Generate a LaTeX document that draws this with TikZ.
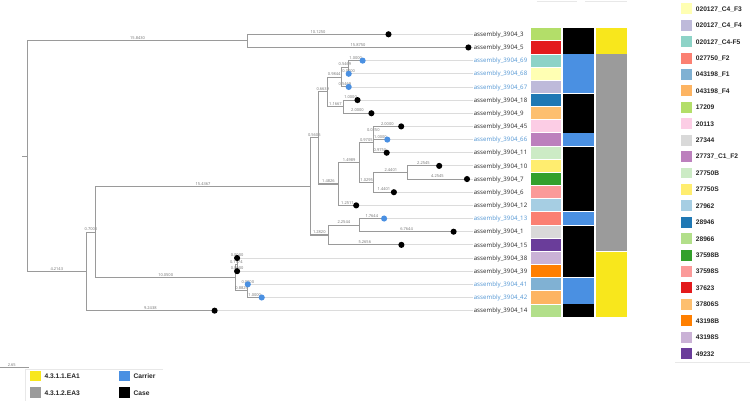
\documentclass[tikz,border=0pt]{standalone}
\usepackage{fontspec}
\setmainfont{Noto Sans}
\newfontfamily\legfont{Liberation Sans}
\definecolor{treegray}{HTML}{9A9A9A}
\definecolor{extgray}{HTML}{DCDCDC}
\definecolor{lblgray}{HTML}{7A7A7A}
\definecolor{tipdark}{HTML}{333333}
\definecolor{tipblue}{HTML}{5B9BD5}
\definecolor{carblue}{HTML}{4A90E2}
\definecolor{gtyellow}{HTML}{F8E71C}
\definecolor{gtgray}{HTML}{9B9B9B}
\definecolor{faint}{HTML}{E8E8E8}
\definecolor{cF3}{HTML}{FFFFB3}
\definecolor{cF4}{HTML}{BEBADA}
\definecolor{cF5}{HTML}{8DD3C7}
\definecolor{c027750}{HTML}{FB8072}
\definecolor{cFone}{HTML}{80B1D3}
\definecolor{cFfour}{HTML}{FDB462}
\definecolor{c17209}{HTML}{B3DE69}
\definecolor{c20113}{HTML}{FCCDE5}
\definecolor{c27344}{HTML}{D9D9D9}
\definecolor{c27737}{HTML}{BC80BD}
\definecolor{c27750B}{HTML}{CCEBC5}
\definecolor{c27750S}{HTML}{FFED6F}
\definecolor{c27962}{HTML}{A6CEE3}
\definecolor{c28946}{HTML}{1F78B4}
\definecolor{c28966}{HTML}{B2DF8A}
\definecolor{c37598B}{HTML}{33A02C}
\definecolor{c37598S}{HTML}{FB9A99}
\definecolor{c37623}{HTML}{E31A1C}
\definecolor{c37806S}{HTML}{FDBF6F}
\definecolor{c43198B}{HTML}{FF7F00}
\definecolor{c43198S}{HTML}{CAB2D6}
\definecolor{c49232}{HTML}{6A3D9A}
\tikzset{
 br/.style={draw=treegray, line width=0.8pt},
 ext/.style={draw=extgray, line width=0.6pt},
 bl/.style={font=\fontsize{3}{3.6}\selectfont, text=lblgray, anchor=south, inner sep=0.5pt},
 tiplab/.style={font=\fontsize{4.6}{5.5}\selectfont, anchor=west, inner sep=0pt, text height=3.3pt, text depth=0pt, text=tipdark},
 carlab/.style={tiplab, text=tipblue},
 casedot/.style={circle, fill=black, inner sep=0pt, minimum size=4.6pt},
 cardot/.style={circle, fill=carblue, inner sep=0pt, minimum size=4.6pt},
 lsq/.style={minimum size=8.2pt, inner sep=0pt},
 bsq/.style={minimum size=8pt, inner sep=0pt},
 ltext/.style={font=\legfont\bfseries\fontsize{5}{6}\selectfont, anchor=west, inner sep=0pt, text height=3.6pt, text depth=0pt, text=black!85},
}
\begin{document}
\begin{tikzpicture}[x=0.75pt,y=-0.75pt]
\useasboundingbox (0,0) rectangle (750,402);
% ---------- internal nodes ----------
\coordinate (root) at (27.5,156.13);
\coordinate (rs) at (22.3,156.13);
\coordinate (Z) at (247.7,40.88);
\coordinate (A) at (86.1,271.38);
\coordinate (B) at (95.8,232.1);
\coordinate (C) at (310.4,186.47);
\coordinate (D) at (235.5,277.76);
\coordinate (E) at (237.1,264.6);
\coordinate (F) at (247.8,290.92);
\coordinate (G) at (318.2,137.94);
\coordinate (I) at (327.4,91.875);
\coordinate (K) at (341.1,77.07);
\coordinate (L) at (348.7,67.2);
\coordinate (M) at (343.6,106.68);
\coordinate (J) at (338.8,184.0);
\coordinate (N) at (359.6,162.61);
\coordinate (O) at (373.1,142.87);
\coordinate (Rr) at (373.5,133.0);
\coordinate (P) at (373.9,182.35);
\coordinate (S) at (407.8,172.48);
\coordinate (H) at (328.2,234.99);
\coordinate (T) at (359.5,225.12);
% ---------- tips ----------
\coordinate (t3) at (388.5,34.30);
\coordinate (t5) at (468.4,47.46);
\coordinate (t69) at (362.6,60.62);
\coordinate (t68) at (348.7,73.78);
\coordinate (t67) at (348.7,86.94);
\coordinate (t18) at (357.5,100.10);
\coordinate (t9) at (371.4,113.26);
\coordinate (t45) at (401.2,126.42);
\coordinate (t66) at (387.3,139.58);
\coordinate (t11) at (386.7,152.74);
\coordinate (t10) at (439.2,165.90);
\coordinate (t7) at (467.0,179.06);
\coordinate (t6) at (393.9,192.22);
\coordinate (t12) at (356.2,205.38);
\coordinate (t13) at (384.1,218.54);
\coordinate (t1) at (453.6,231.70);
\coordinate (t15) at (401.4,244.86);
\coordinate (t38) at (237.1,258.02);
\coordinate (t39) at (237.1,271.18);
\coordinate (t41) at (247.8,284.34);
\coordinate (t42) at (261.7,297.50);
\coordinate (t14) at (214.6,310.66);
% ---------- tip labels ----------
\node[tiplab] (l3) at (473.5,34.30) {assembly\_3904\_3};
\node[tiplab] (l5) at (473.5,47.46) {assembly\_3904\_5};
\node[carlab] (l69) at (473.5,60.62) {assembly\_3904\_69};
\node[carlab] (l68) at (473.5,73.78) {assembly\_3904\_68};
\node[carlab] (l67) at (473.5,86.94) {assembly\_3904\_67};
\node[tiplab] (l18) at (473.5,100.10) {assembly\_3904\_18};
\node[tiplab] (l9) at (473.5,113.26) {assembly\_3904\_9};
\node[tiplab] (l45) at (473.5,126.42) {assembly\_3904\_45};
\node[carlab] (l66) at (473.5,139.58) {assembly\_3904\_66};
\node[tiplab] (l11) at (473.5,152.74) {assembly\_3904\_11};
\node[tiplab] (l10) at (473.5,165.90) {assembly\_3904\_10};
\node[tiplab] (l7) at (473.5,179.06) {assembly\_3904\_7};
\node[tiplab] (l6) at (473.5,192.22) {assembly\_3904\_6};
\node[tiplab] (l12) at (473.5,205.38) {assembly\_3904\_12};
\node[carlab] (l13) at (473.5,218.54) {assembly\_3904\_13};
\node[tiplab] (l1) at (473.5,231.70) {assembly\_3904\_1};
\node[tiplab] (l15) at (473.5,244.86) {assembly\_3904\_15};
\node[tiplab] (l38) at (473.5,258.02) {assembly\_3904\_38};
\node[tiplab] (l39) at (473.5,271.18) {assembly\_3904\_39};
\node[carlab] (l41) at (473.5,284.34) {assembly\_3904\_41};
\node[carlab] (l42) at (473.5,297.50) {assembly\_3904\_42};
\node[tiplab] (l14) at (473.5,310.66) {assembly\_3904\_14};
% ---------- extension lines ----------
\foreach \n in {3,5,69,68,67,18,9,45,66,11,10,7,6,12,13,1,15,38,39,41,42,14}
  \draw[ext] (t\n) -- ([xshift=-0.5pt]l\n.west);
% ---------- tree branches ----------
\draw[br] (rs) -- (root);
\draw[br] (root) |- (Z) node[bl,pos=0.75] {15.8430};
\draw[br] (root) |- (A) node[bl,pos=0.75] {4.2143};
\draw[br] (Z) |- (t3) node[bl,pos=0.75] {10.1250};
\draw[br] (Z) |- (t5) node[bl,pos=0.75] {15.8750};
\draw[br] (A) |- (B) node[bl,pos=0.75] {0.7000};
\draw[br] (A) |- (t14) node[bl,pos=0.75] {9.2438};
\draw[br] (B) |- (C) node[bl,pos=0.75] {15.4367};
\draw[br] (B) |- (D) node[bl,pos=0.75] {10.0500};
\draw[br] (D) |- (E) node[bl,pos=0.75] {0.1174};
\draw[br] (D) |- (F) node[bl,pos=0.75] {0.8829};
\draw[br] (E) |- (t38) node[bl,pos=0.75] {0.0000};
\draw[br] (E) |- (t39) node[bl,pos=0.75] {0.0000};
\draw[br] (F) |- (t41) node[bl,pos=0.75] {0.0000};
\draw[br] (F) |- (t42) node[bl,pos=0.75] {1.0000};
\draw[br] (C) |- (G) node[bl,pos=0.75] {0.5605};
\draw[br] (C) |- (H) node[bl,pos=0.75] {1.2820};
\draw[br] (G) |- (I) node[bl,pos=0.75] {0.6639};
\draw[br] (G) |- (J) node[bl,pos=0.75] {1.4826};
\draw[br] (I) |- (K) node[bl,pos=0.75] {0.9844};
\draw[br] (I) |- (M) node[bl,pos=0.75] {1.1667};
\draw[br] (K) |- (L) node[bl,pos=0.75] {0.5469};
\draw[br] (K) |- (t67) node[bl,pos=0.75] {0.5469};
\draw[br] (L) |- (t69) node[bl,pos=0.75] {1.0000};
\draw[br] (L) |- (t68) node[bl,pos=0.75] {0.0000};
\draw[br] (M) |- (t18) node[bl,pos=0.75] {1.0000};
\draw[br] (M) |- (t9) node[bl,pos=0.75] {2.0000};
\draw[br] (J) |- (N) node[bl,pos=0.75] {1.4989};
\draw[br] (J) |- (t12) node[bl,pos=0.75] {1.2511};
\draw[br] (N) |- (O) node[bl,pos=0.75] {0.9705};
\draw[br] (N) |- (P) node[bl,pos=0.75] {1.0295};
\draw[br] (O) |- (Rr) node[bl,pos=0.75] {0.0250};
\draw[br] (O) |- (t11) node[bl,pos=0.75] {0.9750};
\draw[br] (Rr) |- (t45) node[bl,pos=0.75] {2.0000};
\draw[br] (Rr) |- (t66) node[bl,pos=0.75] {1.0000};
\draw[br] (P) |- (S) node[bl,pos=0.75] {2.4401};
\draw[br] (P) |- (t6) node[bl,pos=0.75] {1.4401};
\draw[br] (S) |- (t10) node[bl,pos=0.75] {2.2545};
\draw[br] (S) |- (t7) node[bl,pos=0.75] {4.2545};
\draw[br] (H) |- (T) node[bl,pos=0.75] {2.2544};
\draw[br] (H) |- (t15) node[bl,pos=0.75] {5.2656};
\draw[br] (T) |- (t13) node[bl,pos=0.75] {1.7644};
\draw[br] (T) |- (t1) node[bl,pos=0.75] {6.7644};
% ---------- tip dots ----------
\foreach \n in {3,5,18,9,45,11,10,7,6,12,1,15,38,39,14}
  \node[casedot] (d\n) at (t\n) {};
\foreach \n in {69,68,67,66,13,41,42}
  \node[cardot] (d\n) at (t\n) {};
% ---------- scale bar ----------
\coordinate (sb1) at (0,367.7);
\coordinate (sb2) at (29.3,367.7);
\draw[br] (sb1) -- (sb2) node[bl,pos=0.4] {2.65};
% ---------- annotation strips ----------
\foreach \i/\c in {0/c17209,1/c37623,2/cF5,3/cF3,4/cF4,5/c28946,6/c37806S,7/c20113,8/c27737,9/c27750B,10/c27750S,11/c37598B,12/c37598S,13/c27962,14/c027750,15/c27344,16/c49232,17/c43198S,18/c43198B,19/cFone,20/cFfour,21/c28966}
  \fill[\c] (530.9,{27.72+13.16*\i+0.5}) rectangle (561.2,{27.72+13.16*(\i+1)-0.5});
% status strip
\fill[black] (563.3,28.0) rectangle (594.3,53.6);
\fill[carblue] (563.3,54.5) rectangle (594.3,93.1);
\fill[black] (563.3,94.0) rectangle (594.3,132.6);
\fill[carblue] (563.3,133.5) rectangle (594.3,145.7);
\fill[black] (563.3,146.6) rectangle (594.3,211.5);
\fill[carblue] (563.3,212.4) rectangle (594.3,224.7);
\fill[black] (563.3,225.6) rectangle (594.3,277.3);
\fill[carblue] (563.3,278.2) rectangle (594.3,303.6);
\fill[black] (563.3,304.5) rectangle (594.3,317.0);
% genotype strip
\fill[gtyellow] (596.2,28.0) rectangle (627.0,53.6);
\fill[gtgray] (596.2,54.5) rectangle (627.0,251.5);
\fill[gtyellow] (596.2,252.4) rectangle (627.0,317.0);
% faint header lines
\draw[faint, line width=0.6pt] (536.7,1.7) -- (576.7,1.7);
\draw[faint, line width=0.6pt] (585.0,1.7) -- (626.7,1.7);
% ---------- right legend ----------
\foreach \k/\c/\t in {0/cF3/020127\_C4\_F3,1/cF4/020127\_C4\_F4,2/cF5/020127\_C4-F5,3/c027750/027750\_F2,4/cFone/043198\_F1,5/cFfour/043198\_F4,6/c17209/17209,7/c20113/20113,8/c27344/27344,9/c27737/27737\_C1\_F2,10/c27750B/27750B,11/c27750S/27750S,12/c27962/27962,13/c28946/28946,14/c28966/28966,15/c37598B/37598B,16/c37598S/37598S,17/c37623/37623,18/c37806S/37806S,19/c43198B/43198B,20/c43198S/43198S,21/c49232/49232}
{
  \node[lsq, fill=\c] (lk\k) at (686.2,{8.8+16.42*\k}) {};
  \node[ltext] (lt\k) at (695.6,{8.8+16.42*\k}) {\t};
}
\draw[faint, line width=0.6pt] (675,362.3) -- (750,362.3);
% ---------- bottom legend ----------
\draw[faint, line width=0.6pt] (25,401) -- (25,369) -- (163,369);
\node[bsq, fill=gtyellow] (by) at (35.3,376.0) {};
\node[ltext] (byt) at (44.3,376.0) {4.3.1.1.EA1};
\node[bsq, fill=gtgray] (bg) at (35.3,392.7) {};
\node[ltext] (bgt) at (44.3,392.7) {4.3.1.2.EA3};
\node[bsq, fill=carblue] (bb) at (124.2,376.0) {};
\node[ltext] (bbt) at (133.3,376.0) {Carrier};
\node[bsq, fill=black] (bk) at (124.2,392.7) {};
\node[ltext] (bkt) at (133.3,392.7) {Case};
\end{tikzpicture}
\end{document}
